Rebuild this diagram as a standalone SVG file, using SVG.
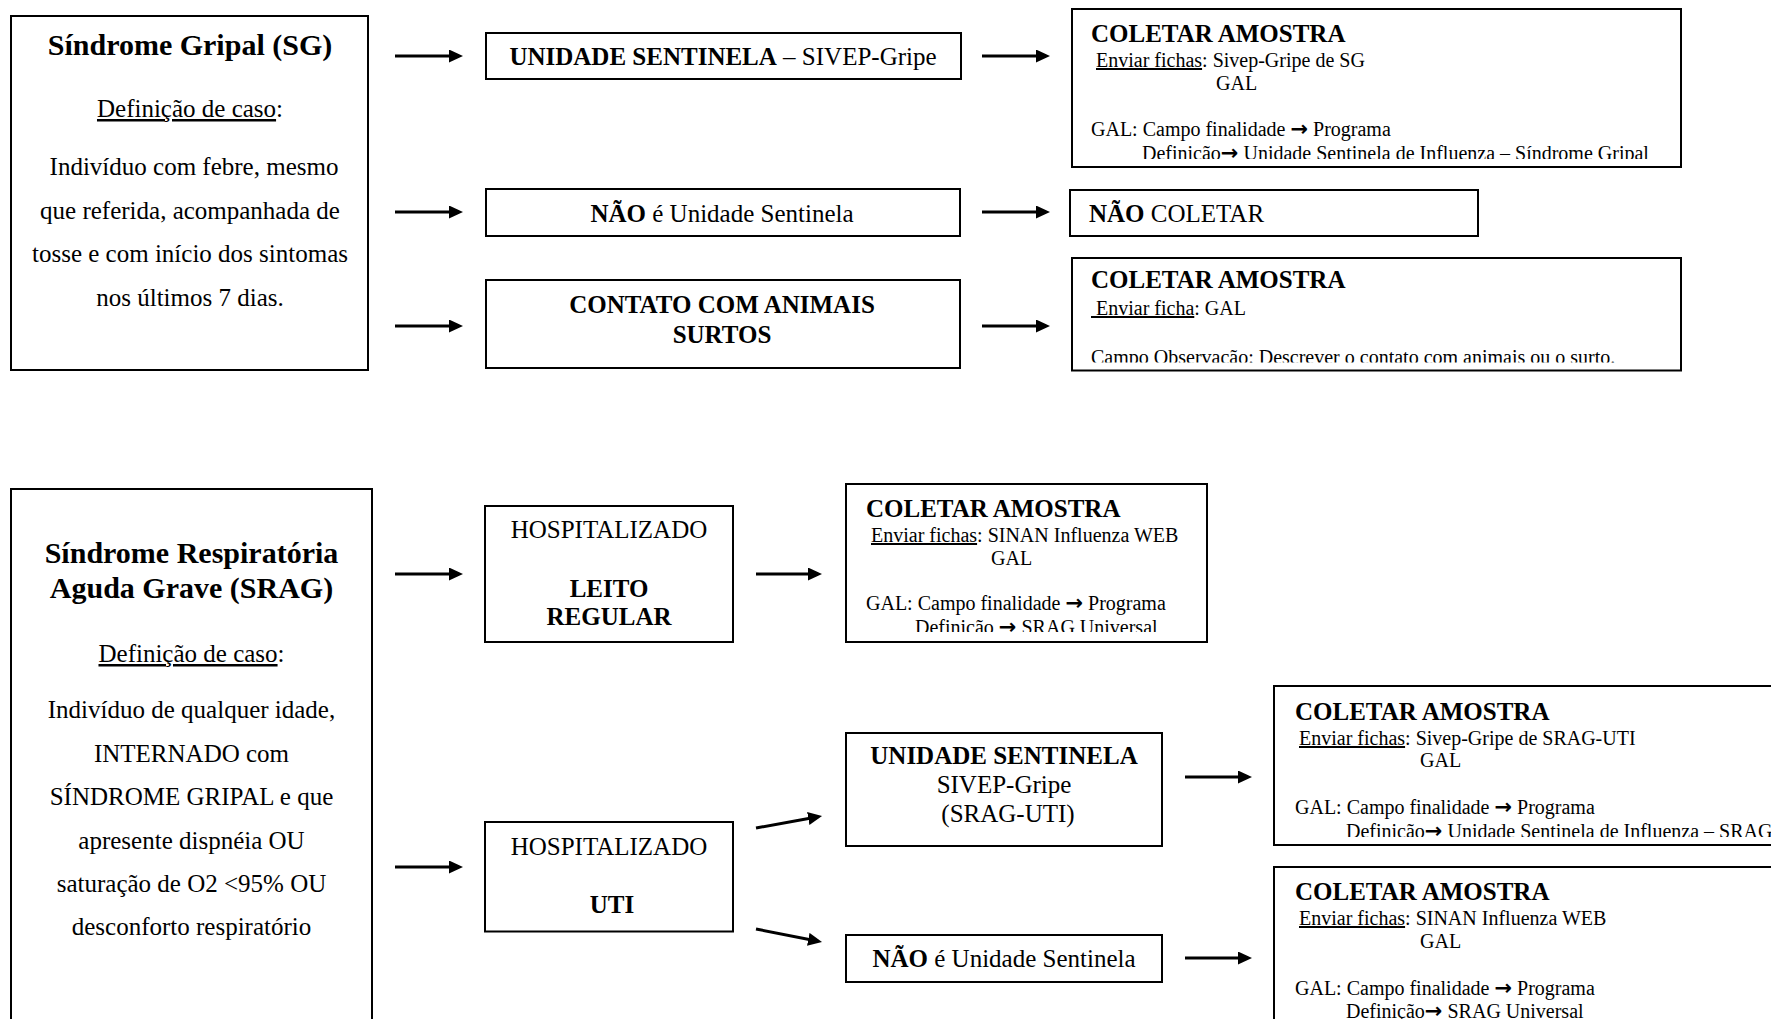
<svg xmlns="http://www.w3.org/2000/svg" width="1771" height="1019" viewBox="0 0 1771 1019">
<style>
.bg{fill:#fff}
.box{fill:#fff;stroke:#000;stroke-width:2}
text{font-family:"Liberation Serif","Times New Roman",serif;fill:#000}
.title{font-size:30px;font-weight:bold}
.m{font-size:25px}
.h{font-size:25px;font-weight:bold}
.s{font-size:20px}
.b{font-weight:bold}
.u{text-decoration:underline}
.c{text-anchor:middle}
.ar{font-family:"DejaVu Sans",sans-serif;font-weight:bold;font-size:21px}
.arrow{stroke:#000;stroke-width:3;fill:none;marker-end:url(#ah)}
</style>
<defs>
<marker id="ah" markerUnits="userSpaceOnUse" markerWidth="14" markerHeight="13" viewBox="0 0 14 13" refX="10" refY="6.5" orient="auto">
<path d="M0,0 L14,6.5 L0,13 z" fill="#000"/>
</marker>
<clipPath id="c1"><rect x="1072" y="9" width="609" height="150"/></clipPath>
<clipPath id="c2"><rect x="846" y="484" width="361" height="148"/></clipPath>
<clipPath id="c3"><rect x="1072" y="258" width="609" height="104.5"/></clipPath>
<clipPath id="c4"><rect x="1274" y="686" width="500" height="151"/></clipPath>
</defs>
<rect class="bg" x="0" y="0" width="1771" height="1019"/>

<g id="sg">
<rect class="box" x="11" y="16" width="357" height="354"/>
<text class="title c" x="190" y="55">Síndrome Gripal (SG)</text>
<text class="m c" x="190" y="117"><tspan class="u">Definição de caso</tspan>:</text>
<text class="m c" x="194" y="175">Indivíduo com febre, mesmo</text>
<text class="m c" x="190" y="218.5">que referida, acompanhada de</text>
<text class="m c" x="190" y="262">tosse e com início dos sintomas</text>
<text class="m c" x="190" y="305.5">nos últimos 7 dias.</text>
</g>

<g id="sg-sentinela">
<rect class="box" x="486" y="33" width="475" height="46"/>
<text class="m c" x="723" y="65"><tspan class="b">UNIDADE SENTINELA</tspan> – SIVEP-Gripe</text>
</g>

<g id="sg-nao-sentinela">
<rect class="box" x="486" y="189" width="474" height="47"/>
<text class="m c" x="722" y="222"><tspan class="b">NÃO</tspan> é Unidade Sentinela</text>
</g>

<g id="sg-contato">
<rect class="box" x="486" y="280" width="474" height="88"/>
<text class="h c" x="722" y="313">CONTATO COM ANIMAIS</text>
<text class="h c" x="722" y="343">SURTOS</text>
</g>

<g id="sg-coletar-1">
<rect class="box" x="1072" y="9" width="609" height="158"/>
<text class="h" x="1091" y="42">COLETAR AMOSTRA</text>
<text class="s" x="1096" y="67"><tspan class="u">Enviar fichas</tspan>: Sivep-Gripe de SG</text>
<text class="s" x="1216" y="90">GAL</text>
<text class="s" x="1091" y="136">GAL: Campo finalidade <tspan class="ar">→</tspan> Programa</text>
<text class="s" x="1142" y="160" clip-path="url(#c1)">Definição<tspan class="ar">→</tspan> Unidade Sentinela de Influenza – Síndrome Gripal</text>
</g>

<g id="sg-nao-coletar">
<rect class="box" x="1070" y="190" width="408" height="46"/>
<text class="m" x="1089" y="222"><tspan class="b">NÃO</tspan> COLETAR</text>
</g>

<g id="sg-coletar-3">
<rect class="box" x="1072" y="258" width="609" height="112.5"/>
<text class="h" x="1091" y="288">COLETAR AMOSTRA</text>
<text class="s" x="1091" y="315"><tspan class="u" xml:space="preserve"> Enviar ficha</tspan>: GAL</text>
<text class="s" x="1091" y="363.5" clip-path="url(#c3)">Campo Observação: Descrever o contato com animais ou o surto.</text>
</g>

<g id="srag">
<rect class="box" x="11" y="489" width="361" height="560"/>
<text class="title c" x="191.5" y="563">Síndrome Respiratória</text>
<text class="title c" x="191.5" y="598">Aguda Grave (SRAG)</text>
<text class="m c" x="191.5" y="662"><tspan class="u">Definição de caso</tspan>:</text>
<text class="m c" x="191.5" y="718">Indivíduo de qualquer idade,</text>
<text class="m c" x="191.5" y="762">INTERNADO com</text>
<text class="m c" x="191.5" y="805">SÍNDROME GRIPAL e que</text>
<text class="m c" x="191.5" y="849">apresente dispnéia OU</text>
<text class="m c" x="191.5" y="892">saturação de O2 &lt;95% OU</text>
<text class="m c" x="191.5" y="935">desconforto respiratório</text>
</g>

<g id="hosp-leito">
<rect class="box" x="485" y="506" width="248" height="136"/>
<text class="m c" x="609" y="538">HOSPITALIZADO</text>
<text class="h c" x="609" y="597">LEITO</text>
<text class="h c" x="609" y="625">REGULAR</text>
</g>

<g id="srag-coletar-2">
<rect class="box" x="846" y="484" width="361" height="158"/>
<text class="h" x="866" y="517">COLETAR AMOSTRA</text>
<text class="s" x="871" y="542"><tspan class="u">Enviar fichas</tspan>: SINAN Influenza WEB</text>
<text class="s" x="991" y="564.5">GAL</text>
<text class="s" x="866" y="610">GAL: Campo finalidade <tspan class="ar">→</tspan> Programa</text>
<text class="s" x="915" y="634" clip-path="url(#c2)">Definição <tspan class="ar">→</tspan> SRAG Universal</text>
</g>

<g id="hosp-uti">
<rect class="box" x="485" y="822" width="248" height="109.5"/>
<text class="m c" x="609" y="855">HOSPITALIZADO</text>
<text class="h c" x="612" y="913">UTI</text>
</g>

<g id="uti-sentinela">
<rect class="box" x="846" y="733" width="316" height="113"/>
<text class="h c" x="1004" y="764">UNIDADE SENTINELA</text>
<text class="m c" x="1004" y="793">SIVEP-Gripe</text>
<text class="m c" x="1008" y="822">(SRAG-UTI)</text>
</g>

<g id="uti-nao-sentinela">
<rect class="box" x="846" y="935" width="316" height="47"/>
<text class="m c" x="1004" y="967"><tspan class="b">NÃO</tspan> é Unidade Sentinela</text>
</g>

<g id="srag-coletar-4">
<rect class="box" x="1274" y="686" width="600" height="159"/>
<text class="h" x="1295" y="720">COLETAR AMOSTRA</text>
<text class="s" x="1299" y="745"><tspan class="u">Enviar fichas</tspan>: Sivep-Gripe de SRAG-UTI</text>
<text class="s" x="1420" y="767">GAL</text>
<text class="s" x="1295" y="814">GAL: Campo finalidade <tspan class="ar">→</tspan> Programa</text>
<text class="s" x="1346" y="838" clip-path="url(#c4)">Definição<tspan class="ar">→</tspan> Unidade Sentinela de Influenza – SRAG</text>
</g>

<g id="srag-coletar-5">
<rect class="box" x="1274" y="867" width="600" height="200"/>
<text class="h" x="1295" y="900">COLETAR AMOSTRA</text>
<text class="s" x="1299" y="925"><tspan class="u">Enviar fichas</tspan>: SINAN Influenza WEB</text>
<text class="s" x="1420" y="948">GAL</text>
<text class="s" x="1295" y="995">GAL: Campo finalidade <tspan class="ar">→</tspan> Programa</text>
<text class="s" x="1346" y="1018">Definição<tspan class="ar">→</tspan> SRAG Universal</text>
</g>

<g id="connectors">
<line class="arrow" x1="395" y1="56" x2="459" y2="56"/>
<line class="arrow" x1="395" y1="212" x2="459" y2="212"/>
<line class="arrow" x1="395" y1="326" x2="459" y2="326"/>
<line class="arrow" x1="982" y1="56" x2="1046" y2="56"/>
<line class="arrow" x1="982" y1="212" x2="1046" y2="212"/>
<line class="arrow" x1="982" y1="326" x2="1046" y2="326"/>
<line class="arrow" x1="395" y1="574" x2="459" y2="574"/>
<line class="arrow" x1="395" y1="867" x2="459" y2="867"/>
<line class="arrow" x1="756" y1="574" x2="818" y2="574"/>
<line class="arrow" x1="756" y1="828" x2="818.1" y2="816.7"/>
<line class="arrow" x1="756" y1="929" x2="818.1" y2="941.2"/>
<line class="arrow" x1="1185" y1="777" x2="1248" y2="777"/>
<line class="arrow" x1="1185" y1="958" x2="1248" y2="958"/>
</g>
</svg>
